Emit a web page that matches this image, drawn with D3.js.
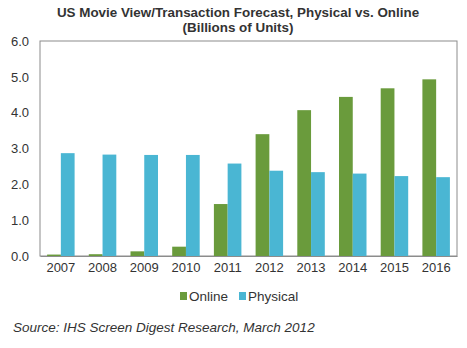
<!DOCTYPE html>
<html>
<head>
<meta charset="utf-8">
<script src="https://cdn.jsdelivr.net/npm/d3@7"></script>
<style>
body { margin: 0; background: #fff; }
text { font-family: "Liberation Sans", Arial, sans-serif; fill: #333; }
</style>
</head>
<body>
<div id="viz"></div>
<script>
var years = ["2007","2008","2009","2010","2011","2012","2013","2014","2015","2016"];
var online = [0.04, 0.05, 0.13, 0.26, 1.45, 3.4, 4.07, 4.44, 4.68, 4.93];
var physical = [2.87, 2.83, 2.82, 2.82, 2.58, 2.38, 2.34, 2.3, 2.23, 2.2];
var yTicks = [0, 1, 2, 3, 4, 5, 6];
var seriesNames = ["Online", "Physical"];
var colors = ["#6a9b3c", "#4ab6d3"];

var width = 467, height = 348;
var m = {left: 40, right: 457, top: 41, bottom: 256};

var svg = d3.select("#viz").append("svg")
	.attr("width", width)
	.attr("height", height);

var x = d3.scaleBand().domain(years).range([m.left, m.right]);
var inner = d3.scaleBand().domain(seriesNames).range([0, 27.5]);
var y = d3.scaleLinear().domain([0, 6]).range([m.bottom, m.top]);

// title
svg.append("text").attr("x", 238).attr("y", 17)
	.attr("text-anchor", "middle").style("font-size", "13.4px").style("font-weight", "bold")
	.text("US Movie View/Transaction Forecast, Physical vs. Online");
svg.append("text").attr("x", 238).attr("y", 32)
	.attr("text-anchor", "middle").style("font-size", "13.4px").style("font-weight", "bold")
	.text("(Billions of Units)");

// plot frame
svg.append("rect")
	.attr("x", m.left).attr("y", m.top)
	.attr("width", m.right - m.left).attr("height", m.bottom - m.top)
	.attr("fill", "none").attr("stroke", "#8c8c8c").attr("stroke-width", 1);

var rows = years.map((yr, i) => ({year: yr, values: [online[i], physical[i]]}));

var groups = svg.selectAll("g.year")
	.data(rows)
	.enter().append("g")
	.attr("class", "year")
	.attr("transform", d => "translate(" + (x(d.year) + (x.bandwidth() - 27.5) / 2) + ",0)");

groups.selectAll("rect")
	.data(d => d.values.map((v, j) => ({name: seriesNames[j], value: v, color: colors[j]})))
	.enter().append("rect")
	.attr("x", d => inner(d.name))
	.attr("width", inner.bandwidth())
	.attr("y", d => y(d.value))
	.attr("height", d => m.bottom - y(d.value))
	.attr("fill", d => d.color);

// y axis labels
var yAxis = svg.append("g")
	.attr("transform", "translate(" + m.left + ",0)")
	.call(d3.axisLeft(y).tickValues(yTicks).tickFormat(d3.format(".1f")).tickSize(0).tickPadding(11));
yAxis.select(".domain").remove();
yAxis.selectAll("text").style("font-size", "13px").style("font-family", "Liberation Sans, Arial, sans-serif").attr("fill", "#333");

// x axis labels
var xAxis = svg.append("g")
	.attr("transform", "translate(0," + m.bottom + ")")
	.call(d3.axisBottom(x).tickSize(0).tickPadding(7));
xAxis.select(".domain").attr("stroke", "#8c8c8c");
xAxis.selectAll("text").style("font-size", "13px").style("font-family", "Liberation Sans, Arial, sans-serif").attr("fill", "#333");

// legend
var legend = svg.append("g").attr("transform", "translate(180,301)");
var legendX = [0, 59];
seriesNames.forEach((n, i) => {
	legend.append("rect").attr("x", legendX[i]).attr("y", -9).attr("width", 7).attr("height", 8).attr("fill", colors[i]);
	legend.append("text").attr("x", legendX[i] + 9).attr("y", 0).style("font-size", "13.5px").text(n);
});

// source note
svg.append("text").attr("x", 13).attr("y", 332)
	.style("font-size", "13.5px").style("font-style", "italic")
	.text("Source: IHS Screen Digest Research, March 2012");
</script>
</body>
</html>
